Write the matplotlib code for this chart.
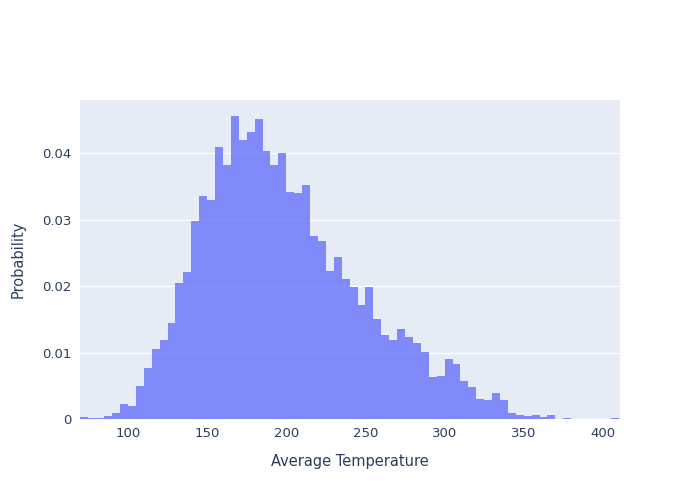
import numpy as np
import matplotlib.pyplot as plt

# bin left edges (width 5) and probability per bin
bin_start = 70
bin_width = 5
probs = [0.0003, 0.0001, 0.0001, 0.0005, 0.0009, 0.0023, 0.0019, 0.0049, 0.0077, 0.0105,
         0.0119, 0.0145, 0.0204, 0.0221, 0.0298, 0.0335, 0.0330, 0.0409, 0.0382, 0.0456,
         0.0420, 0.0432, 0.0451, 0.0403, 0.0382, 0.0401, 0.0341, 0.0340, 0.0352, 0.0275,
         0.0268, 0.0223, 0.0244, 0.0211, 0.0199, 0.0172, 0.0199, 0.0150, 0.0126, 0.0119,
         0.0135, 0.0123, 0.0114, 0.0101, 0.0063, 0.0065, 0.0090, 0.0083, 0.0057, 0.0048,
         0.0030, 0.0029, 0.0039, 0.0029, 0.0009, 0.0006, 0.0005, 0.0006, 0.0003, 0.0006,
         0.0, 0.0001, 0.0, 0.0, 0.0, 0.0, 0.0, 0.0001]
edges = bin_start + bin_width * np.arange(len(probs))

text_col = '#2a3f5f'
fig = plt.figure(figsize=(7, 5), dpi=100)
ax = fig.add_axes([80 / 700, 81 / 500, 540 / 700, 319 / 500])
ax.set_facecolor('#e5ecf6')
ax.bar(edges, probs, width=bin_width, align='edge', color='#636efa', alpha=0.78, linewidth=0)

ax.set_xlim(69.7, 410.8)
ax.set_ylim(0, 0.048)
ax.set_xticks([100, 150, 200, 250, 300, 350, 400])
ax.set_yticks([0, 0.01, 0.02, 0.03, 0.04])
ax.set_yticklabels(['0', '0.01', '0.02', '0.03', '0.04'])
ax.grid(axis='y', color='white', linewidth=1)
ax.set_axisbelow(True)
for s in ax.spines.values():
    s.set_visible(False)
ax.tick_params(length=0, colors=text_col, labelsize=9.5, pad=6)
ax.set_xlabel('Average Temperature', color=text_col, fontsize=10.5, labelpad=10)
ax.set_ylabel('Probability', color=text_col, fontsize=10.5, labelpad=12)

fig.savefig('out.png')
